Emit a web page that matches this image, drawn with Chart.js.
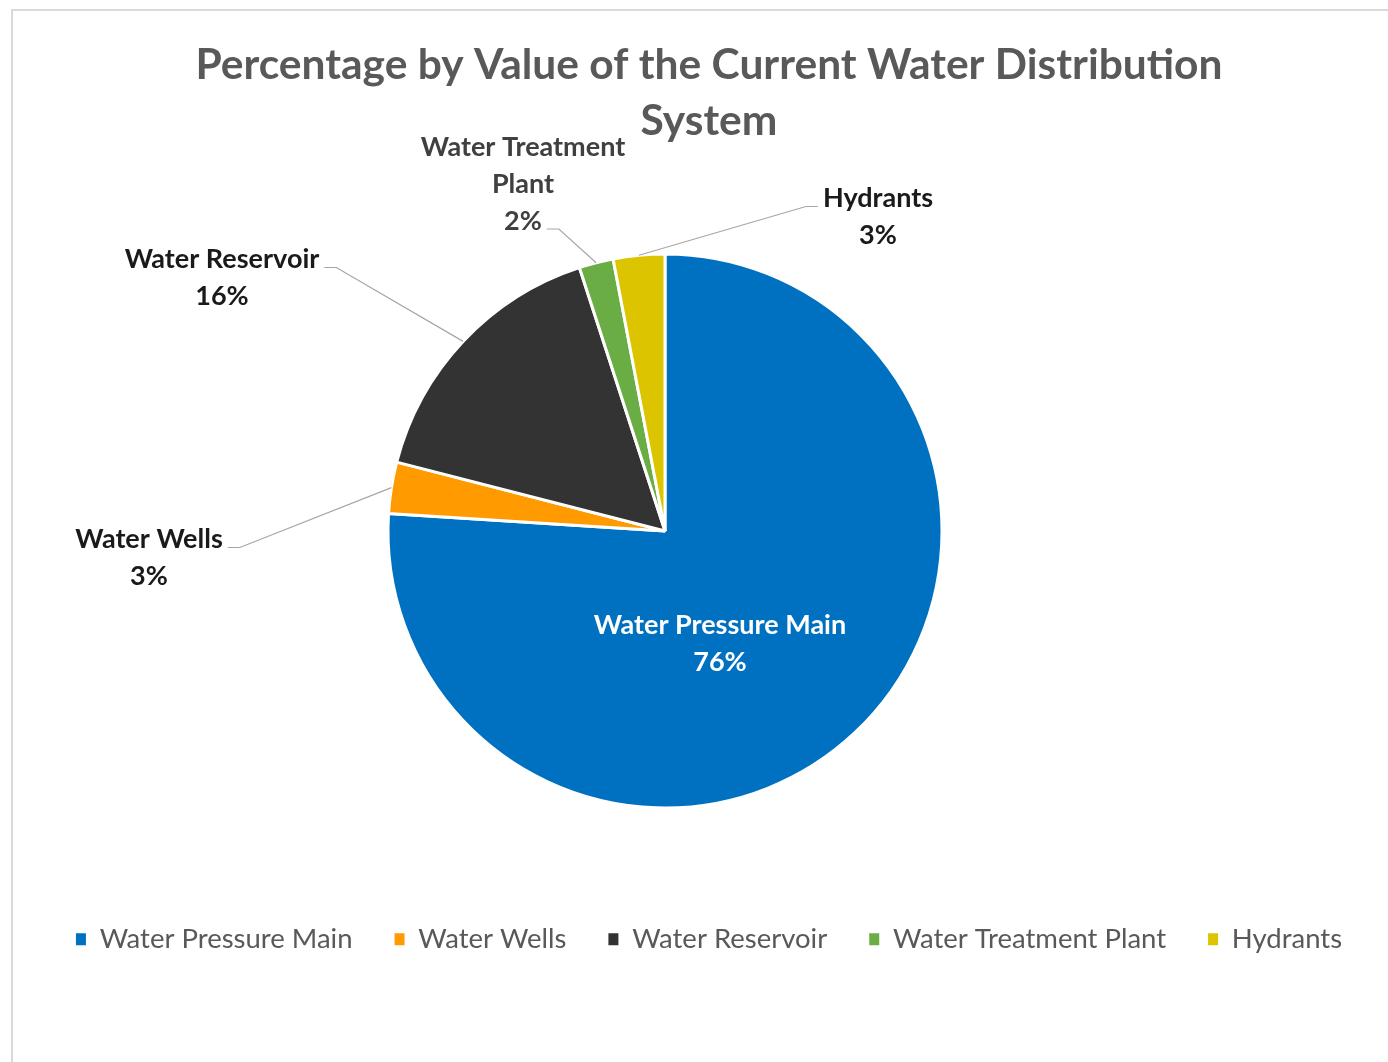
<!DOCTYPE html>
<html>
<head>
<meta charset="utf-8">
<title>Water Distribution System</title>
<script src="https://cdn.jsdelivr.net/npm/chart.js@4/dist/chart.umd.min.js"></script>
<style>
  html, body { margin: 0; padding: 0; background: #fff; overflow: hidden; }
  #frame {
    position: absolute; left: 11px; top: 9px;
    width: 1400px; height: 1080px;
    border: 2px solid #d9d9d9;
  }
  #waterChart { position: absolute; left: 0; top: 0; }
</style>
</head>
<body>
<div id="frame"></div>
<canvas id="waterChart" width="1388" height="1062"></canvas>
<script>
// Datos del gráfico
const categories = ["Water Pressure Main", "Water Wells", "Water Reservoir", "Water Treatment Plant", "Hydrants"];
const shares = [76, 3, 16, 2, 3];
const sliceColors = ["#0070c0", "#ff9a00", "#333333", "#6aad45", "#dcc400"];
const titleLines = ["Percentage by Value of the Current Water Distribution", "System"];

const FONT = "Lato, 'Noto Sans', sans-serif";

// Posición del pastel dentro del lienzo
const pie = { cx: 665, cy: 531, radius: 277 };

// Ubicación de cada etiqueta respecto al centro del pastel
// (dx, dy: centro del bloque de texto; attach: línea a la que se une la guía)
const labelSetup = [
  { dx: 55, dy: 113, inside: true, color: "#ffffff", maxWidth: 330 },
  { dx: -516, dy: 27, attach: 0, color: "#1a1a1a", maxWidth: 330 },
  { dx: -443, dy: -253, attach: 0, color: "#1a1a1a", maxWidth: 330 },
  { dx: -142, dy: -347, attach: 2, color: "#404040", maxWidth: 240 },
  { dx: 213, dy: -314, attach: 0, color: "#1a1a1a", maxWidth: 330 },
];

// Fija el área del gráfico para que el pastel quede centrado donde corresponde
const piePlacement = {
  id: "piePlacement",
  afterLayout(chart) {
    const a = chart.chartArea;
    a.left = pie.cx - pie.radius - 2;
    a.right = pie.cx + pie.radius + 2;
    a.top = pie.cy - pie.radius - 2;
    a.bottom = pie.cy + pie.radius + 2;
    a.width = a.right - a.left;
    a.height = a.bottom - a.top;
  },
};

function wrapWords(ctx, text, maxWidth) {
  const words = text.split(" ");
  const lines = [];
  let line = "";
  words.forEach((w) => {
    const test = line ? line + " " + w : w;
    if (line && ctx.measureText(test).width > maxWidth) {
      lines.push(line);
      line = w;
    } else {
      line = test;
    }
  });
  if (line) lines.push(line);
  return lines;
}

// Etiquetas de datos con líneas guía
const sliceLabels = {
  id: "sliceLabels",
  afterDatasetsDraw(chart) {
    const ctx = chart.ctx;
    const meta = chart.getDatasetMeta(0);
    const values = chart.data.datasets[0].data;
    const total = values.reduce((s, v) => s + v, 0);
    const lineH = 37;

    meta.data.forEach((arc, i) => {
      const cfg = labelSetup[i];
      const p = arc.getProps(["x", "y", "startAngle", "endAngle", "outerRadius"], true);
      const pct = Math.round((values[i] / total) * 100) + "%";

      ctx.save();
      ctx.font = "bold 27px " + FONT;
      const lines = wrapWords(ctx, chart.data.labels[i], cfg.maxWidth).concat([pct]);
      const bx = p.x + cfg.dx;
      const by = p.y + cfg.dy;
      const firstY = by - ((lines.length - 1) * lineH) / 2;

      if (!cfg.inside) {
        const mid = (p.startAngle + p.endAngle) / 2;
        const ex = p.x + Math.cos(mid) * p.outerRadius;
        const ey = p.y + Math.sin(mid) * p.outerRadius;
        const w = ctx.measureText(lines[cfg.attach]).width;
        const dir = ex > bx ? 1 : -1;
        const sx = bx + dir * (w / 2 + 5);
        const sy = firstY + cfg.attach * lineH + 8;
        ctx.strokeStyle = "#a6a6a6";
        ctx.lineWidth = 1.2;
        ctx.beginPath();
        ctx.moveTo(sx, sy);
        ctx.lineTo(sx + dir * 12, sy);
        ctx.lineTo(ex, ey);
        ctx.stroke();
      }

      ctx.fillStyle = cfg.color;
      ctx.textAlign = "center";
      ctx.textBaseline = "middle";
      lines.forEach((t, k) => ctx.fillText(t, bx, firstY + k * lineH));
      ctx.restore();
    });
  },
};

const ctx = document.getElementById("waterChart").getContext("2d");
const waterChart = new Chart(ctx, {
  type: "pie",
  data: {
    labels: categories,
    datasets: [
      {
        data: shares,
        backgroundColor: sliceColors,
        borderColor: "#ffffff",
        borderWidth: 3,
      },
    ],
  },
  options: {
    responsive: false,
    animation: false,
    radius: pie.radius,
    clip: false,
    layout: {
      padding: { top: 37, left: 30, right: 0, bottom: 99 },
    },
    plugins: {
      title: {
        display: true,
        text: titleLines,
        color: "#595959",
        font: { family: FONT, size: 42.5, weight: "bold", lineHeight: 1.32 },
        padding: { top: 0, bottom: 0 },
      },
      legend: {
        position: "bottom",
        labels: {
          color: "#595959",
          font: { family: FONT, size: 27.5 },
          boxWidth: 10,
          boxHeight: 12,
          padding: 42,
          generateLabels(chart) {
            const items = Chart.overrides.pie.plugins.legend.labels.generateLabels(chart);
            items.forEach((it) => { it.lineWidth = 0; });
            return items;
          },
        },
      },
      tooltip: { enabled: false },
    },
  },
  plugins: [piePlacement, sliceLabels],
});
</script>
</body>
</html>
